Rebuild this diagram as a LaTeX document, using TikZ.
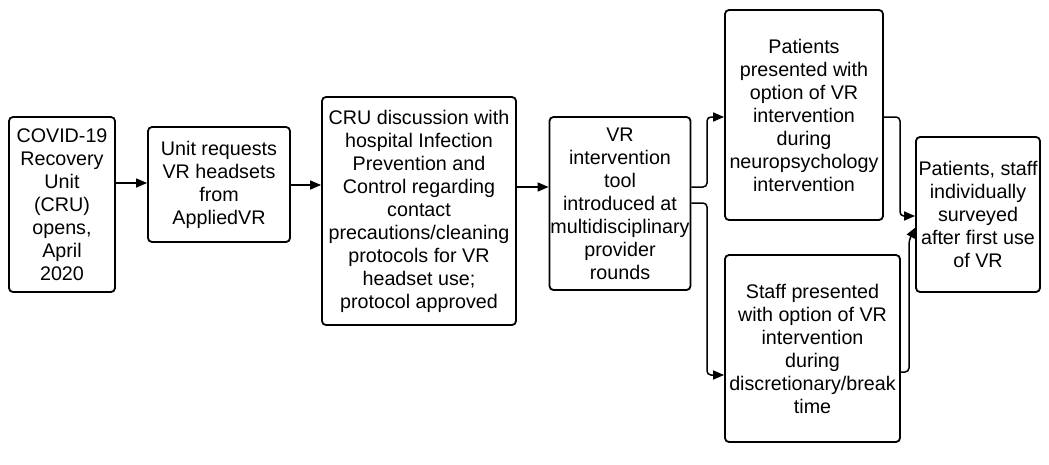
\documentclass[tikz,border=0pt]{standalone}
\usepackage{fontspec}
\setmainfont{Liberation Sans}
\usetikzlibrary{arrows.meta}
\begin{document}
\begin{tikzpicture}[x=1pt,y=-1pt,
  box/.style={draw=black, line width=1.8pt, rounded corners=4pt, align=center, inner sep=0pt,
    font=\fontsize{19.7}{23}\selectfont},
  conn/.style={line width=1.5pt, rounded corners=4pt, -{Triangle[length=11pt,width=9pt]}}]
\useasboundingbox (0,0) rectangle (1049,464);
\node[box, minimum width=106pt, minimum height=175pt] (b1) at (62,204.5)
  {COVID-19\\Recovery\\Unit\\(CRU)\\opens,\\April\\2020};
\node[box, minimum width=142pt, minimum height=115pt] (b2) at (219,184.5)
  {Unit requests\\VR headsets\\from\\AppliedVR};
\node[box, minimum width=194pt, minimum height=228pt] (b3) at (419,211)
  {CRU discussion with\\hospital Infection\\Prevention and\\Control regarding\\contact\\precautions/cleaning\\protocols for VR\\headset use;\\protocol approved};
\node[box, minimum width=141pt, minimum height=173pt] (b4) at (620,203.5)
  {VR\\intervention\\tool\\introduced at\\multidisciplinary\\provider\\rounds};
\node[box, minimum width=158pt, minimum height=210pt] (b5) at (804,115)
  {Patients\\presented with\\option of VR\\intervention\\during\\neuropsychology\\intervention};
\node[box, minimum width=175pt, minimum height=187pt] (b6) at (812.5,348.5)
  {Staff presented\\with option of VR\\intervention\\during\\discretionary/break\\time};
\node[box, minimum width=124pt, minimum height=155pt] (b7) at (978,214.5)
  {Patients, staff\\individually\\surveyed\\after first use\\of VR};
\coordinate (y1) at (0,183);
\coordinate (y2) at (0,185);
\coordinate (y3) at (0,187);
\coordinate (ya) at (0,187);
\coordinate (yb) at (0,203);
\coordinate (yc) at (0,117);
\coordinate (yd) at (0,375);
\coordinate (ye) at (0,216);
\coordinate (yf) at (0,372);
\coordinate (xa) at (707,0);
\coordinate (xb) at (900,0);
\coordinate (xc) at (909,0);
\coordinate (tip) at (916,227);
\draw[conn] (b1.east |- y1) -- (b2.west |- y1);
\draw[conn] (b2.east |- y2) -- (b3.west |- y2);
\draw[conn] (b3.east |- y3) -- (b4.west |- y3);
\draw[conn] (b4.east |- ya) -- (xa |- ya) -- (xa |- yc) -- (b5.west |- yc);
\draw[conn] (b4.east |- yb) -- (xa |- yb) -- (xa |- yd) -- (b6.west |- yd);
\draw[conn] (b5.east |- yc) -- (xb |- yc) -- (xb |- ye) -- (b7.west |- ye);
\draw[conn] (b6.east |- yf) -- (xc |- yf) -- (909,240) -- (tip);
\end{tikzpicture}
\end{document}
